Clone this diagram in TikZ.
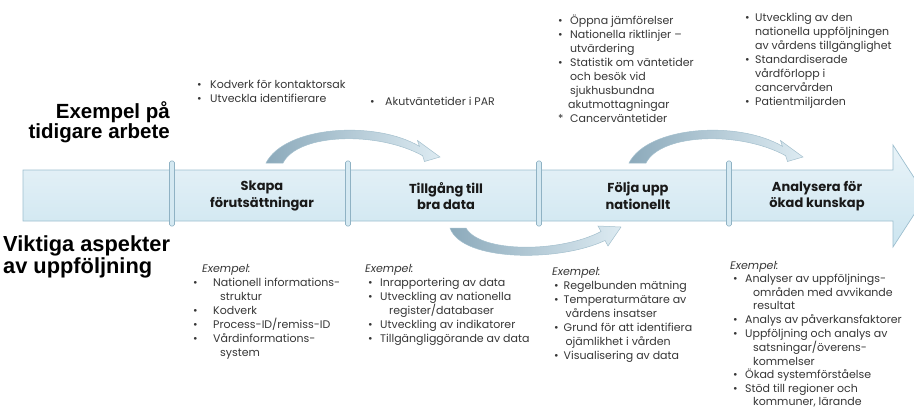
\documentclass[tikz,border=0pt]{standalone}
\usepackage{fontspec}
\setmainfont{Poppins}
\newfontfamily\headfont{Liberation Sans}
\usepackage{array}
\definecolor{bodyTop}{HTML}{E9F3F8}
\definecolor{bodyBot}{HTML}{CCE5F0}
\definecolor{bodyLine}{HTML}{9DBFCF}
\definecolor{sepFill}{HTML}{D5E9F2}
\definecolor{sepLine}{HTML}{8FB2C4}
\definecolor{arrDark}{HTML}{8CAABB}
\definecolor{arrLight}{HTML}{DDEBF2}
\definecolor{arrLine}{HTML}{A3BFCD}
\definecolor{txt}{HTML}{363636}
\newcommand\blist[2]{\begin{tabular}[t]{@{}p{#1}@{}l@{}}#2\end{tabular}}
\newcommand\bi[1]{\textbullet & #1\\}
\newcommand\ci[2]{& \hspace*{#1}#2\\}
\newcommand\as[1]{* & #1\\}
\newcommand\ex[1]{\multicolumn{2}{@{}l@{}}{\hspace*{#1}\textit{Exempel:}}\\}
\tikzset{
  body/.style={draw=bodyLine, line width=0.7pt, top color=bodyTop, bottom color=bodyBot},
  sepbar/.style={draw=sepLine, line width=0.6pt, fill=sepFill, rounded corners=1.5pt},
  curv/.style={draw=arrLine, line width=0.5pt, left color=arrDark, right color=arrLight},
  sec/.style={align=center, font=\fontsize{13}{16.5}\selectfont\bfseries, text=black!90, inner sep=0pt},
  head/.style={font=\headfont\bfseries\fontsize{20.5}{19.5}\selectfont, inner sep=0pt, text=black},
  lst/.style={font=\fontsize{11}{14}\selectfont, text=txt, inner sep=0pt, anchor=base west},
}
\begin{document}
\begin{tikzpicture}[x=1pt,y=-1pt]
\useasboundingbox (0,0) rectangle (914,410);
\clip (0,0) rectangle (914,410);
% main arrow
\draw[body] (23,170) -- (893,170) -- (893,145) -- (926,196) -- (893,247) -- (893,221) -- (23,221) -- cycle;
% separators
\foreach \sx in {172,348,539,729}{
  \draw[sepbar] (\sx-2.5,161) rectangle (\sx+2.5,226);
}
% curved arrows above
\draw[curv] (266,163) .. controls (285,126) and (375,120) .. (419.4,146.3) -- (417.5,140.5) -- (440,157) -- (424.5,161.5) -- (422.6,155.7) .. controls (378,131) and (298,133) .. (283,163) -- cycle;
\begin{scope}[xshift=363pt]
\draw[curv] (266,163) .. controls (285,126) and (375,120) .. (419.4,146.3) -- (417.5,140.5) -- (440,157) -- (424.5,161.5) -- (422.6,155.7) .. controls (378,131) and (298,133) .. (283,163) -- cycle;
\end{scope}
% curved arrow below
\draw[curv] (450,228) .. controls (462,262) and (560,262) .. (605,240.5) -- (608,246) -- (621,227) -- (598,226) -- (601,231.5) .. controls (560,253) and (480,253) .. (466,228) -- cycle;
% section labels
\node[sec] (s1) at (262,196) {Skapa\\förutsättningar};
\node[sec] (s2) at (446,196) {Tillgång till\\bra data};
\node[sec] (s3) at (638,196) {Följa upp\\nationellt};
\node[sec] (s4) at (817,196) {Analysera för\\ökad kunskap};
% left headings
\node[head, anchor=base east] (h1) at (170,118) {\begin{tabular}[t]{@{}r@{}}Exempel på\\tidigare arbete\end{tabular}};
\node[head, font=\headfont\bfseries\fontsize{21.8}{19.5}\selectfont, anchor=base west] (h2) at (3,251) {\begin{tabular}[t]{@{}l@{}}Viktiga aspekter\\[0.5pt]av uppföljning\end{tabular}};
% top lists
\node[lst] (t1) at (197,88) {\blist{13pt}{\bi{Kodverk för kontaktorsak}\bi{Utveckla identifierare}}};
\node[lst] (t2) at (370,105) {\blist{15pt}{\bi{Akutväntetider i PAR}}};
\node[lst] (t3) at (558,24) {\blist{12pt}{\bi{Öppna jämförelser}\bi{Nationella riktlinjer –}\ci{0pt}{utvärdering}\bi{Statistik om väntetider}\ci{0pt}{och besök vid}\ci{0pt}{sjukhusbundna}\ci{-2pt}{akutmottagningar}\as{Cancerväntetider}}};
\node[lst] (t4) at (745,21) {\blist{10pt}{\bi{Utveckling av den}\ci{0pt}{nationella uppföljningen}\ci{0pt}{av vårdens tillgänglighet}\bi{Standardiserade}\ci{0pt}{vårdförlopp i}\ci{0pt}{cancervården}\bi{Patientmiljarden}}};
% bottom lists
\node[lst] (b1) at (193,272) {\blist{20pt}{\ex{9pt}\bi{Nationell informations-}\ci{7pt}{struktur}\bi{Kodverk}\bi{Process-ID/remiss-ID}\bi{Vårdinformations-}\ci{7pt}{system}}};
\node[lst] (b2) at (368,272) {\blist{12pt}{\ex{-3pt}\bi{Inrapportering av data}\bi{Utveckling av nationella}\ci{9pt}{register/databaser}\bi{Utveckling av indikatorer}\bi{Tillgängliggörande av data}}};
\node[lst] (b3) at (554,275) {\blist{9.5pt}{\ex{-2pt}\bi{Regelbunden mätning}\bi{Temperaturmätare av}\ci{2pt}{vårdens insatser}\bi{Grund för att identifiera}\ci{2pt}{ojämlikhet i vården}\bi{Visualisering av data}}};
\node[lst, font=\fontsize{11}{13.6}\selectfont] (b4) at (733,269) {\blist{12pt}{\ex{-3pt}\bi{Analyser av uppföljnings-}\ci{8pt}{områden med avvikande}\ci{8pt}{resultat}\bi{Analys av påverkansfaktorer}\bi{Uppföljning och analys av}\ci{8pt}{satsningar/överens-}\ci{8pt}{kommelser}\bi{Ökad systemförståelse}\bi{Stöd till regioner och}\ci{8pt}{kommuner, lärande}}};
\end{tikzpicture}
\end{document}
